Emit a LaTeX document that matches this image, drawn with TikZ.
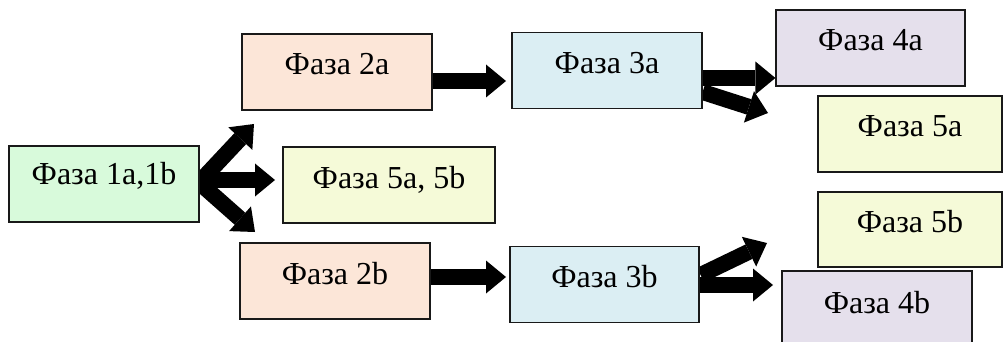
\documentclass[tikz,border=0pt]{standalone}
\usepackage{fontspec}
\setmainfont{Liberation Serif}
\usetikzlibrary{arrows.meta,backgrounds}
\definecolor{cgreen}{RGB}{216,250,219}
\definecolor{cpeach}{RGB}{252,230,216}
\definecolor{cyellow}{RGB}{245,250,216}
\definecolor{cblue}{RGB}{219,238,243}
\definecolor{clav}{RGB}{229,224,236}
\definecolor{cborder}{RGB}{25,25,25}
\tikzset{
  phasebox/.style={draw=cborder, line width=1.2pt, fill=#1, inner sep=0pt,
    minimum height=76pt, text height=24pt, text depth=18pt,
    font=\fontsize{32}{36}\selectfont},
  blockarrow/.style={draw=black, line width=16pt,
    -{Triangle[width=33pt,length=20pt,line width=0pt]}}
}
\begin{document}
\begin{tikzpicture}[x=1pt,y=-1pt]
\useasboundingbox (0,0) rectangle (1004,342);
\clip (0,0) rectangle (1004,342);
% boxes
\node[phasebox=cgreen, minimum width=190pt, text height=21pt, text depth=21pt] (b1) at (104,184) {Фаза 1a,1b};
\node[phasebox=cpeach, minimum width=190pt] (b2a) at (337,72) {Фаза 2a};
\node[phasebox=cyellow, minimum width=212pt] (b5ab) at (389,185) {Фаза 5a, 5b};
\node[phasebox=cpeach, minimum width=190pt] (b2b) at (335,281) {Фаза 2b};
\node[phasebox=cblue, minimum width=190pt] (b3a) at (607,70.5) {Фаза 3a};
\node[phasebox=cblue, minimum width=189pt] (b3b) at (604.5,284.5) {Фаза 3b};
\node[phasebox=clav, minimum width=189pt] (b4a) at (870.5,48) {Фаза 4a};
\node[phasebox=cyellow, minimum width=184pt] (b5a) at (910,134) {Фаза 5a};
\node[phasebox=cyellow, minimum width=184pt, minimum height=75pt] (b5b) at (910,229.5) {Фаза 5b};
\node[phasebox=clav, minimum width=190pt, text height=25pt, text depth=17pt] (b4b) at (877,309) {Фаза 4b};
% arrow ends
\coordinate (e1up) at (254,124);
\coordinate (e1mid) at (275,180);
\coordinate (e1dn) at (255,232);
\coordinate (e2a) at (506,81);
\coordinate (e3adn) at (768,113);
\coordinate (e2b) at (506,277);
\coordinate (e3bup) at (767,243);
\coordinate (e3b) at (773,285);
\begin{pgfonlayer}{background}
\fill[white] (0,0) rectangle (1004,342);
\draw[blockarrow] ([yshift=2pt]b1.east) -- (e1up);
\draw[blockarrow] ([yshift=4pt]b1.east) -- (e1mid);
\draw[blockarrow] ([yshift=1pt]b1.east) -- (e1dn);
\draw[blockarrow] ([yshift=-9pt]b2a.east) -- (e2a);
\draw[blockarrow] ([yshift=-7.5pt]b3a.east) -- ([yshift=-30pt]b4a.west);
\draw[blockarrow] ([yshift=-21.5pt]b3a.east) -- (e3adn);
\draw[blockarrow] ([yshift=4pt]b2b.east) -- (e2b);
\draw[blockarrow] ([yshift=9.5pt,xshift=1pt]b3b.east) -- (e3bup);
\draw[blockarrow] ([yshift=-0.5pt]b3b.east) -- (e3b);
\end{pgfonlayer}
\end{tikzpicture}
\end{document}
